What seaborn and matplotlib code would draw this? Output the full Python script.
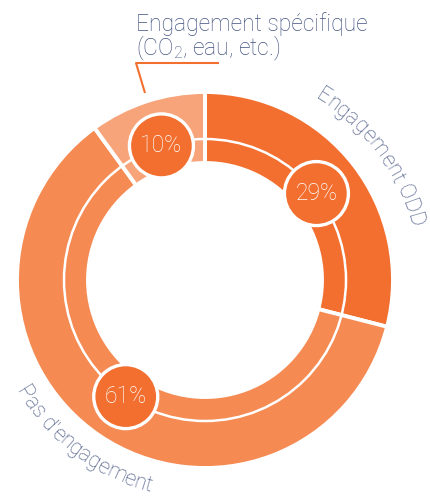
import numpy as np
import seaborn as sns
import matplotlib.pyplot as plt
from matplotlib.patches import Circle

labels = ["Engagement ODD", "Pas d'engagement", "Engagement spécifique"]
shares = [29, 61, 10]
colors = ["#f26f30", "#f58a52", "#f7a47a"]
label_color = "#f26f30"
text_color = "#435380"

sns.set_theme(style="white")
plt.rcParams['font.family'] = ['Roboto', 'DejaVu Sans']
plt.rcParams['mathtext.fontset'] = 'custom'
plt.rcParams['mathtext.rm'] = 'Roboto:light'

fig = plt.figure(figsize=(4.31, 4.99), dpi=100)
ax = fig.add_axes([0, 0, 1, 1])
cx, cy = 205, 219
R, W = 188, 71
fs = 16.5

ax.pie(shares, colors=colors, startangle=90, counterclock=False, radius=R,
       center=(cx, cy), frame=True,
       wedgeprops=dict(width=W, edgecolor='white', linewidth=2.8))
ax.set_xlim(0, 431)
ax.set_ylim(0, 499)
ax.set_aspect('equal')
ax.axis('off')

# thin white ring through the middle of the donut
ax.add_patch(Circle((cx, cy), 141, fill=False, ec='white', lw=1.8, zorder=2))

# percentage bubbles at the middle of each wedge
cum = np.cumsum(shares)
mids = (cum - np.array(shares) / 2) / sum(shares) * 360
for v, a in zip(shares, mids):
    x = cx + 141 * np.sin(np.radians(a))
    y = cy + 141 * np.cos(np.radians(a))
    ax.add_patch(Circle((x, y), 32, fc=label_color, ec='white', lw=2.4, zorder=3))
    ax.text(x, y, f"{v}%", color='white', fontsize=fs, fontweight='light',
            ha='center', va='center', zorder=4)

renderer = fig.canvas.get_renderer()


def text_w(s, size):
    t = ax.text(0, 0, s, fontsize=size, fontweight='light')
    w = t.get_window_extent(renderer).width
    t.remove()
    return w


def arc_text(s, r, theta_mid, outward=True, size=fs):
    widths = np.array([text_w('H' + c + 'H', size) - text_w('HH', size) for c in s])
    pos = np.cumsum(widths) - widths / 2 - widths.sum() / 2
    for c, p in zip(s, pos):
        d = np.degrees(p / r)
        th = theta_mid + d if outward else theta_mid - d
        rot = -th if outward else 180 - th
        x = cx + r * np.sin(np.radians(th))
        y = cy + r * np.cos(np.radians(th))
        ax.text(x, y, c, rotation=rot, rotation_mode='anchor', ha='center',
                va='baseline', fontsize=size, fontweight='light', color=text_color)


arc_text(labels[0], 212, 53.5, outward=True, size=15.5)
arc_text(labels[1], 219, 217, outward=False, size=15.5)

# callout for the small wedge
ax.plot([219, 136, 145], [436, 436, 406], color=label_color, lw=1.5,
        solid_capstyle='butt')
ax.text(136, 468, labels[2], fontsize=fs, fontweight='light', color=text_color,
        ha='left', va='baseline')
ax.text(136, 444, "(CO$_2$, eau, etc.)", fontsize=fs, fontweight='light',
        color=text_color, ha='left', va='baseline')

fig.savefig('out.png', dpi=100)
